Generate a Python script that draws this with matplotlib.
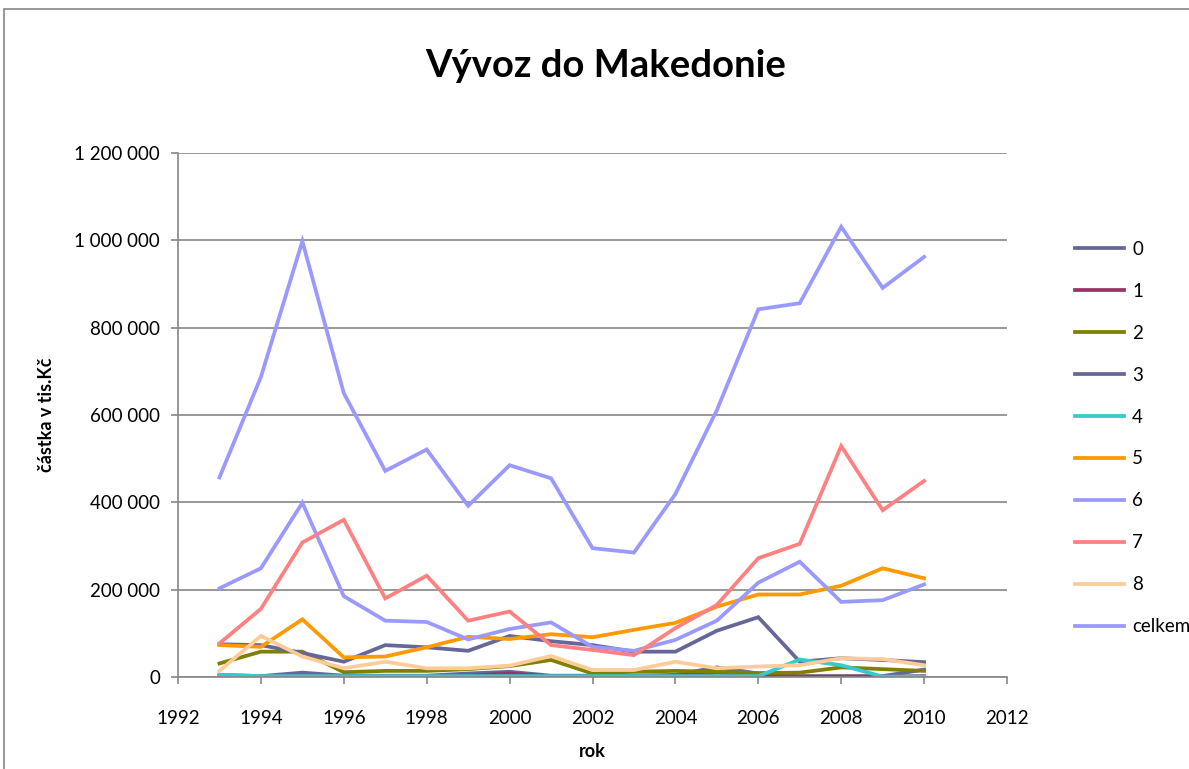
import numpy as np
import matplotlib.pyplot as plt
from matplotlib.ticker import FuncFormatter, MultipleLocator
from matplotlib.patches import Rectangle

plt.rcParams['font.family'] = ['Lato', 'DejaVu Sans']

# Data (values in tis. Kč)
years = np.arange(1993, 2011)
s0 = [5000, 2000, 10000, 3000, 3000, 3000, 8000, 12000, 3000, 3000, 3000, 5000, 22000, 8000, 2000, 2000, 2000, 17000]
s1 = [2000, 1000, 2000, 1000, 1000, 1000, 3000, 8000, 1000, 1000, 1000, 3000, 10000, 3000, 1000, 1000, 1000, 2000]
s2 = [31000, 58000, 58000, 11000, 14000, 14000, 18000, 25000, 39000, 8000, 12000, 14000, 12000, 9000, 10000, 22000, 18000, 14000]
s3 = [75000, 73000, 55000, 35000, 73000, 68000, 60000, 94000, 82000, 73000, 58000, 58000, 106000, 137000, 35000, 43000, 39000, 34000]
s4 = [5000, 2000, 2000, 2000, 2000, 2000, 2000, 2000, 2000, 2000, 2000, 2000, 2000, 2000, 40000, 27000, 1000, 1000]
s5 = [73000, 69000, 132000, 45000, 47000, 68000, 92000, 87000, 98000, 91000, 108000, 124000, 161000, 189000, 189000, 209000, 249000, 226000]
s6 = [203000, 249000, 399000, 185000, 129000, 126000, 86000, 110000, 125000, 69000, 60000, 85000, 129000, 216000, 264000, 172000, 176000, 212000]
s7 = [77000, 156000, 308000, 360000, 180000, 232000, 129000, 150000, 73000, 62000, 50000, 112000, 165000, 272000, 305000, 529000, 382000, 449000]
s8 = [14000, 94000, 47000, 20000, 35000, 20000, 20000, 26000, 48000, 16000, 16000, 35000, 20000, 24000, 27000, 43000, 41000, 27000]
celkem = [457000, 687000, 998000, 650000, 472000, 521000, 392000, 485000, 455000, 295000, 285000, 419000, 611000, 842000, 856000, 1031000, 891000, 962000]

series = [s0, s1, s2, s3, s4, s5, s6, s7, s8, celkem]
labels = ["0", "1", "2", "3", "4", "5", "6", "7", "8", "celkem"]
colors = ["#666699", "#993366", "#808000", "#666699", "#33CCCC",
          "#FF9900", "#9999FF", "#FF8080", "#FFCC99", "#9999FF"]

fig = plt.figure(figsize=(11.89, 7.69), dpi=100)
fig.patches.append(Rectangle((4 / 1189, -0.1), 1.2, (769 - 9) / 769 + 0.1,
                             transform=fig.transFigure, fill=False,
                             edgecolor="#868686", lw=1.2))
ax = fig.add_axes([178 / 1189, 92 / 769, 829 / 1189, 524 / 769])

for vals, lab, c in zip(series, labels, colors):
    ax.plot(years, vals, color=c, lw=2.7, label=lab, solid_joinstyle="miter")

ax.set_xlim(1992, 2012)
ax.set_ylim(0, 1200000)
ax.xaxis.set_major_locator(MultipleLocator(2))
ax.yaxis.set_major_locator(MultipleLocator(200000))
ax.yaxis.set_major_formatter(FuncFormatter(lambda v, p: f"{int(v):,}".replace(",", " ")))
ax.grid(axis="y", color="#868686", lw=1.2)
ax.set_axisbelow(True)
for side in ["top", "right"]:
    ax.spines[side].set_visible(False)
for side in ["left", "bottom"]:
    ax.spines[side].set_color("#868686")
    ax.spines[side].set_linewidth(1.2)
ax.tick_params(axis="both", direction="out", length=5, width=1.2, color="#868686",
               labelsize=13.5, pad=8)
ax.tick_params(axis="x", pad=19)

fig.text(606 / 1189, 1 - 66 / 769, "Vývoz do Makedonie", ha="center", va="center",
         fontsize=27.5, fontweight="bold")
ax.set_xlabel("rok", fontsize=13, fontweight="bold", labelpad=11)
ax.set_ylabel("částka v tis.Kč", fontsize=13, fontweight="bold", labelpad=14)

ax.legend(loc="center left", bbox_to_anchor=(1058 / 1189, 1 - 438 / 769),
          bbox_transform=fig.transFigure, frameon=False, fontsize=13.5,
          handlelength=2.6, handletextpad=0.45, labelspacing=1.33)

fig.savefig("out.png", dpi=100)
